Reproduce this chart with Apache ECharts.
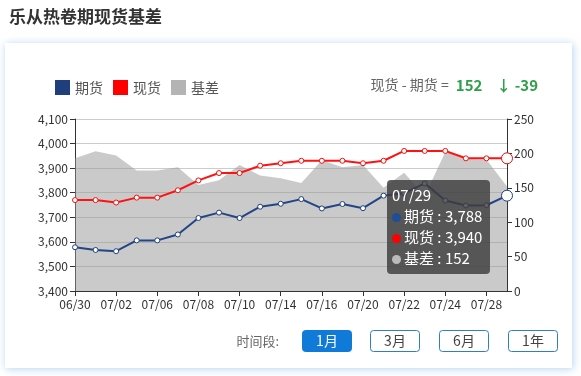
<!DOCTYPE html>
<html><head><meta charset="utf-8">
<script src="https://cdn.jsdelivr.net/npm/echarts@6/dist/echarts.min.js"></script>
<style>html,body{margin:0;padding:0;background:#fff}#c{width:581px;height:376px}</style>
</head><body><div id="c"></div>
<script>
const chartTitle = '乐从热卷期现货基差';
const dates = ['06/30','07/01','07/02','07/03','07/06','07/07','07/08','07/09','07/10','07/13','07/14','07/15','07/16','07/17','07/20','07/21','07/22','07/23','07/24','07/27','07/28','07/29'];
const futures = [3578,3567,3562,3606,3606,3630,3697,3719,3697,3743,3755,3774,3736,3754,3737,3788,3798,3838,3768,3748,3749,3788];
const spot = [3770,3770,3760,3780,3780,3810,3850,3880,3880,3910,3920,3930,3930,3930,3920,3930,3970,3970,3970,3940,3940,3940];
const basis = [193,203,197,175,175,180,154,161,183,168,164,157,190,180,183,150,172,138,202,192,191,152];
const seriesNames = ['期货','现货','基差'];
const priceAxis = {min:3400, max:4100, interval:100};
const basisAxis = {min:0, max:250, interval:50};
const latestBasis = 152;
const basisChange = -39;
const periodButtons = ['1月','3月','6月','1年'];
const periodLabel = '时间段:';

const FONT = '"Noto Sans CJK SC", "Noto Sans", sans-serif';
const colors = ['#1f3f7c', '#ff0000', '#b4b4b4'];
const chart = echarts.init(document.getElementById('c'), null, {renderer:'canvas'});

const buttons = [];
const btnX = [302, 370, 439, 508];
periodButtons.forEach((t, i) => {
  const active = i === 0;
  buttons.push({
    type:'rect', z:10, shape:{x:btnX[i]+0.5, y:330.5, width:49, height:21, r:3},
    style:{fill: active ? '#0f7ad8' : '#fff', stroke: active ? '#0f7ad8' : '#2f7fc8', lineWidth:1}
  });
  buttons.push({
    type:'text', z:11, x:btnX[i]+25, y:341,
    style:{text:t, fill: active ? '#fff' : '#444', font:'14px ' + FONT, textAlign:'center', textVerticalAlign:'middle'}
  });
});

const option = {
  animation:false,
  textStyle:{fontFamily:FONT},
  color: colors,
  title:{text:chartTitle, left:4, top:3, textStyle:{fontSize:17, fontWeight:'bold', color:'#333', fontFamily:FONT}},
  legend:{
    left:50, top:75, itemWidth:15, itemHeight:15, itemGap:10, icon:'rect',
    textStyle:{fontSize:14, color:'#555', fontFamily:FONT},
    data: seriesNames.map((n,i)=>({name:n, itemStyle:{color:colors[i], borderWidth:0}}))
  },
  grid:{left:75, right:74, top:119, bottom:85},
  tooltip:{
    trigger:'axis', triggerOn:'none', alwaysShowContent:true, transitionDuration:0,
    axisPointer:{type:'line', lineStyle:{opacity:0}},
    backgroundColor:'rgba(60,60,60,0.82)', borderWidth:0, padding:[4,8,6,5],
    extraCssText:'border-radius:4px;box-shadow:none;line-height:21px;',
    textStyle:{color:'#fff', fontSize:15, fontFamily:FONT},
    position:[387,180],
    formatter: params => {
      let s = params[0].axisValue;
      params.forEach(p => {
        const c = p.seriesIndex === 2 ? '#bbbbbb' : (p.seriesIndex === 0 ? '#1f4e96' : '#ff0000');
        s += '<br/><span style="display:inline-block;margin-right:3px;border-radius:50%;width:9px;height:9px;background:'+c+'"></span>' + p.seriesName + ' : ' + Number(p.value).toLocaleString('en-US');
      });
      return s;
    }
  },
  xAxis:{
    type:'category', data:dates, boundaryGap:false,
    axisLine:{lineStyle:{color:'#333'}},
    axisTick:{show:true, alignWithLabel:true, interval:1, length:5},
    axisLabel:{color:'#333', fontSize:12, interval:1, margin:7}
  },
  yAxis:[
    {type:'value', min:priceAxis.min, max:priceAxis.max, interval:priceAxis.interval,
     axisLine:{show:true, lineStyle:{color:'#333'}}, axisTick:{show:true, length:5},
     axisLabel:{color:'#333', fontSize:12, margin:7, formatter:v=>v.toLocaleString('en-US')},
     splitLine:{lineStyle:{color:'#cccccc'}}},
    {type:'value', min:basisAxis.min, max:basisAxis.max, interval:basisAxis.interval,
     axisLine:{show:true, lineStyle:{color:'#333'}}, axisTick:{show:true, length:5},
     axisLabel:{color:'#333', fontSize:12, margin:7},
     splitLine:{show:false}}
  ],
  series:[
    {name:seriesNames[0], type:'line', data:futures, yAxisIndex:0, z:4,
     symbol:'circle', symbolSize:5, itemStyle:{color:'#fff', borderColor:colors[0], borderWidth:1},
     lineStyle:{color:colors[0], width:2},
     emphasis:{scale:2.2, lineStyle:{width:2}, itemStyle:{color:'#fff', borderColor:'#1f3f7c', borderWidth:1}}},
    {name:seriesNames[1], type:'line', data:spot, yAxisIndex:0, z:4,
     symbol:'circle', symbolSize:5, itemStyle:{color:'#fff', borderColor:'#ee1111', borderWidth:1},
     lineStyle:{color:'#ee1111', width:2},
     emphasis:{scale:2.2, lineStyle:{width:2}, itemStyle:{color:'#fff', borderColor:'#e01010', borderWidth:1}}},
    {name:seriesNames[2], type:'line', data:basis, yAxisIndex:1, z:1,
     symbol:'none', lineStyle:{width:0, opacity:0},
     itemStyle:{color:colors[2]},
     areaStyle:{color:'rgba(150,150,150,0.5)', opacity:1},
     emphasis:{disabled:true}}
  ],
  graphic:[
    {type:'rect', z:-100, shape:{x:5, y:43, width:567, height:325},
     style:{fill:'#fff', shadowBlur:8, shadowColor:'rgba(120,175,225,0.55)', shadowOffsetX:1, shadowOffsetY:1}},
    {type:'text', z:10, x:538, y:85,
     style:{text:'{a|现货 - 期货 = }{b|' + latestBasis + '}{c|' + (basisChange < 0 ? '↓ ' : '↑ ') + basisChange + '}',
       textAlign:'right', textVerticalAlign:'middle',
       rich:{a:{fill:'#666', fontSize:14, fontFamily:FONT},
             b:{fill:'#2fa04a', fontSize:15, fontWeight:'bold', fontFamily:FONT, padding:[0,14,0,4]},
             c:{fill:'#2fa04a', fontSize:15, fontWeight:'bold', fontFamily:FONT}}}},
    {type:'text', z:10, x:279, y:341,
     style:{text:periodLabel, fill:'#666', font:'13px ' + FONT, textAlign:'right', textVerticalAlign:'middle'}},
    ...buttons
  ]
};
chart.setOption(option);
chart.dispatchAction({type:'showTip', seriesIndex:0, dataIndex:dates.length-1});
</script></body></html>
